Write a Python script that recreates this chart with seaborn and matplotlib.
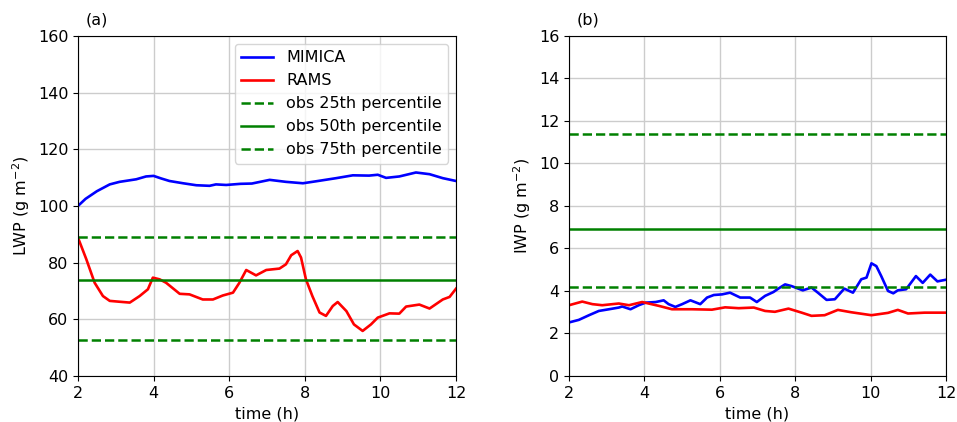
import numpy as np
import pandas as pd
import seaborn as sns
import matplotlib.pyplot as plt

# LWP (painel a)
t_lwp_mimica = [2.0, 2.2, 2.5, 2.84, 3.1, 3.54, 3.8, 4.0, 4.2, 4.42, 4.78, 5.13, 5.48, 5.65,
                5.92, 6.3, 6.6, 7.07, 7.5, 7.95, 8.3, 8.83, 9.27, 9.7, 9.93, 10.15, 10.5,
                10.94, 11.3, 11.65, 12.0]
lwp_mimica = [100.0, 102.5, 105.2, 107.6, 108.5, 109.4, 110.4, 110.6, 109.7, 108.8, 108.0,
              107.3, 107.1, 107.6, 107.4, 107.8, 107.9, 109.2, 108.5, 108.0, 108.7, 109.8,
              110.8, 110.7, 111.0, 109.9, 110.4, 111.8, 111.2, 109.8, 108.8]

t_lwp_rams = [2.0, 2.22, 2.44, 2.66, 2.84, 3.1, 3.37, 3.63, 3.85, 3.98, 4.16, 4.33, 4.69,
              4.95, 5.3, 5.57, 5.83, 6.1, 6.27, 6.45, 6.71, 6.98, 7.33, 7.5, 7.64, 7.81,
              7.9, 8.03, 8.2, 8.39, 8.56, 8.74, 8.87, 9.1, 9.3, 9.53, 9.75, 9.93, 10.24,
              10.5, 10.68, 11.03, 11.3, 11.65, 11.83, 12.0]
lwp_rams = [88.8, 81.2, 72.9, 68.2, 66.5, 66.2, 65.9, 68.2, 70.6, 74.7, 74.1, 72.9, 69.0,
            68.8, 67.0, 67.0, 68.4, 69.4, 72.9, 77.4, 75.5, 77.4, 77.9, 79.4, 82.6, 84.1,
            81.8, 74.1, 68.2, 62.4, 61.2, 64.7, 66.1, 62.9, 58.2, 55.9, 58.2, 60.6, 62.1,
            62.0, 64.5, 65.2, 63.8, 67.0, 67.9, 70.8]

lwp_obs = {'25th': 52.6, '50th': 73.9, '75th': 89.2}

# IWP (painel b)
t_iwp_mimica = [2.0, 2.26, 2.53, 2.79, 3.06, 3.32, 3.41, 3.63, 3.85, 4.03, 4.3, 4.51, 4.64,
                4.82, 5.0, 5.22, 5.48, 5.66, 5.84, 6.06, 6.27, 6.54, 6.8, 6.98, 7.2, 7.42,
                7.55, 7.73, 7.9, 8.2, 8.43, 8.6, 8.83, 9.05, 9.3, 9.53, 9.75, 9.89, 10.02,
                10.15, 10.28, 10.46, 10.6, 10.72, 10.94, 11.2, 11.38, 11.58, 11.77, 12.0]
iwp_mimica = [2.52, 2.64, 2.86, 3.06, 3.14, 3.22, 3.27, 3.14, 3.33, 3.45, 3.48, 3.56, 3.38,
              3.25, 3.38, 3.56, 3.38, 3.69, 3.81, 3.84, 3.92, 3.69, 3.69, 3.48, 3.77, 3.95,
              4.11, 4.31, 4.23, 4.03, 4.16, 3.92, 3.58, 3.61, 4.11, 3.92, 4.55, 4.63, 5.30,
              5.17, 4.70, 4.00, 3.89, 4.03, 4.08, 4.70, 4.38, 4.77, 4.45, 4.53]

t_iwp_rams = [2.0, 2.35, 2.62, 2.88, 3.32, 3.59, 3.94, 4.38, 4.73, 5.26, 5.79, 6.14, 6.5,
              6.9, 7.2, 7.46, 7.82, 8.17, 8.43, 8.78, 9.13, 9.48, 10.02, 10.46, 10.72,
              10.99, 11.43, 12.0]
iwp_rams = [3.33, 3.50, 3.38, 3.33, 3.41, 3.33, 3.48, 3.30, 3.14, 3.14, 3.12, 3.23, 3.19,
            3.22, 3.06, 3.02, 3.17, 2.98, 2.83, 2.86, 3.11, 3.00, 2.86, 2.97, 3.11, 2.94,
            2.98, 2.98]

iwp_obs = {'25th': 4.2, '50th': 6.9, '75th': 11.4}

fig = plt.figure(figsize=(9.57, 4.22), dpi=100)
ax1 = fig.add_axes([0.0815, 0.109, 0.395, 0.806])
ax2 = fig.add_axes([0.5946, 0.109, 0.394, 0.806])

paineis = [
    (ax1, t_lwp_mimica, lwp_mimica, t_lwp_rams, lwp_rams, lwp_obs,
     'LWP (g m$^{-2}$)', (40, 160), np.arange(40, 161, 20), '(a)'),
    (ax2, t_iwp_mimica, iwp_mimica, t_iwp_rams, iwp_rams, iwp_obs,
     'IWP (g m$^{-2}$)', (0, 16), np.arange(0, 17, 2), '(b)'),
]

for ax, tm, ym, tr, yr, obs, ylabel, ylim, yticks, letra in paineis:
    sns.lineplot(x=tm, y=ym, ax=ax, color='blue', lw=1.9, label='MIMICA')
    sns.lineplot(x=tr, y=yr, ax=ax, color='red', lw=1.9, label='RAMS')
    ax.axhline(obs['25th'], color='green', ls='--', lw=1.8, label='obs 25th percentile')
    ax.axhline(obs['50th'], color='green', ls='-', lw=1.8, label='obs 50th percentile')
    ax.axhline(obs['75th'], color='green', ls='--', lw=1.8, label='obs 75th percentile')
    ax.set_xlim(2, 12)
    ax.set_ylim(*ylim)
    ax.set_xticks([2, 4, 6, 8, 10, 12])
    ax.set_yticks(yticks)
    ax.grid(True, color='#cccccc', lw=1)
    ax.set_axisbelow(True)
    ax.tick_params(labelsize=11.5)
    ax.set_xlabel('time (h)', fontsize=11.5)
    ax.set_ylabel(ylabel, fontsize=11.5)
    ax.set_title(letra, loc='left', fontsize=11.5, x=0.02, pad=8)

ax1.legend(loc='upper right', fontsize=11.5, framealpha=0.8)
ax2.get_legend().remove()

plt.savefig('out.png', dpi=100)
